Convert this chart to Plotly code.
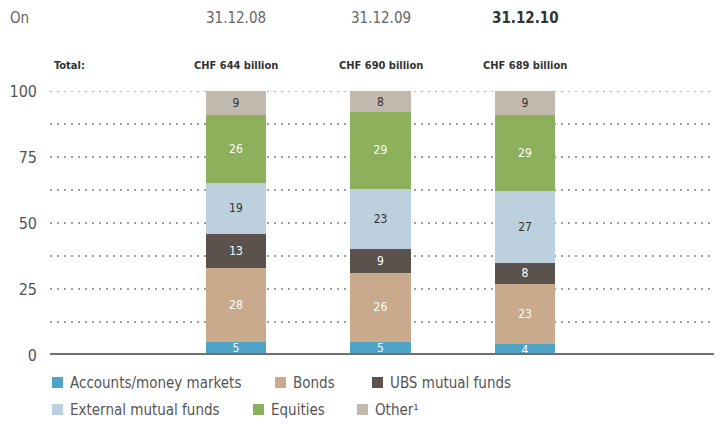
import plotly.graph_objects as go

dates = ["31.12.08", "31.12.09", "31.12.10"]
totals = ["CHF 644 billion", "CHF 690 billion", "CHF 689 billion"]
series_names = ["Accounts/money markets", "Bonds", "UBS mutual funds",
                "External mutual funds", "Equities", "Other¹"]
accounts = [5, 5, 4]
bonds = [28, 26, 23]
ubs_funds = [13, 9, 8]
external_funds = [19, 23, 27]
equities = [26, 29, 29]
other = [9, 8, 9]
grid_vals = [0, 12.5, 25, 37.5, 50, 62.5, 75, 87.5, 100]
grid_text = ["0", "", "25", "", "50", "", "75", "", "100"]

values = [accounts, bonds, ubs_funds, external_funds, equities, other]
colors = ["#4ea3c7", "#c9aa8c", "#5b524d", "#bdd0de", "#8cb05b", "#c3baaf"]
text_colors = ["white", "white", "white", "#333333", "white", "#333333"]

FONT = "Liberation Sans Narrow, DejaVu Sans Condensed, sans-serif"
x = [0, 1, 2]

# page body has an 8px margin: figure is shifted by (8, 8)
OFF = 8
W, H = 722 - OFF, 426 - OFF
L, T, PW, PH = 50 - OFF, 91 - OFF, 672, 264

GRID_COLOR = "#a0a0a0"
GRID_DASH = "2px,5px"

fig = go.Figure()
for name, vals, col, tcol in zip(series_names, values, colors, text_colors):
    fig.add_trace(go.Bar(
        x=x, y=vals, name=name, width=0.42,
        marker=dict(color=col, line=dict(width=0)),
        text=[str(v) for v in vals], textposition="inside",
        insidetextanchor="middle", textangle=0, constraintext="none",
        textfont=dict(family=FONT, size=12, color=tcol),
        showlegend=False,
    ))

fig.update_layout(
    barmode="stack",
    width=W, height=H,
    margin=dict(l=L, r=0, t=T, b=H - T - PH, autoexpand=False),
    paper_bgcolor="white", plot_bgcolor="white",
    font=dict(family=FONT, color="#555555"),
    xaxis=dict(range=[-1.287, 3.363], showticklabels=False, showgrid=False,
               zeroline=False, showline=False),
    yaxis=dict(range=[0, 100], tickvals=grid_vals, ticktext=grid_text,
               showgrid=True, gridcolor=GRID_COLOR, griddash=GRID_DASH,
               gridwidth=1.5, zeroline=False, showline=False, ticks="",
               ticklabelstandoff=12,
               tickfont=dict(family=FONT, size=16, color="#555555")),
)

# top gridline (at the range edge) and baseline
fig.add_shape(type="line", xref="paper", yref="y", x0=0, x1=1,
              y0=grid_vals[-1], y1=grid_vals[-1],
              line=dict(color=GRID_COLOR, width=1.5, dash=GRID_DASH), layer="below")
fig.add_shape(type="line", xref="paper", yref="y", x0=0, x1=1, y0=0, y1=0,
              line=dict(color="#6e6e6e", width=4), layer="above")


def px_x(px):
    return (px - 50) / PW


def px_y(py):
    return 1 - (py - 91) / PH


anns = []
anns.append(dict(xref="paper", yref="paper", x=px_x(8), y=px_y(18),
                 text="On", xanchor="left", yanchor="middle", showarrow=False,
                 font=dict(size=15, color="#666666")))
anns.append(dict(xref="paper", yref="paper", x=px_x(52), y=px_y(66),
                 text="<b>Total:</b>", xanchor="left", yanchor="middle", showarrow=False,
                 font=dict(size=11, color="#333333")))
for i, (d, t) in enumerate(zip(dates, totals)):
    dtext = f"<b>{d}</b>" if i == len(dates) - 1 else d
    anns.append(dict(xref="x", yref="paper", x=x[i], y=px_y(18),
                     text=dtext, xanchor="center", yanchor="middle", showarrow=False,
                     font=dict(size=15, color="#333333" if i == 2 else "#666666")))
    anns.append(dict(xref="x", yref="paper", x=x[i], y=px_y(66),
                     text=f"<b>{t}</b>", xanchor="center", yanchor="middle", showarrow=False,
                     font=dict(size=11, color="#333333")))

# legend (manual)
legend_pos = [(52, 383), (275, 383), (372, 383), (52, 410), (253, 410), (357, 410)]
for (lx, ly), name, col in zip(legend_pos, series_names, colors):
    fig.add_shape(type="rect", xref="paper", yref="paper",
                  x0=px_x(lx), x1=px_x(lx + 11), y0=px_y(ly + 5), y1=px_y(ly - 6),
                  fillcolor=col, line=dict(width=0))
    anns.append(dict(xref="paper", yref="paper", x=px_x(lx + 16),
                     y=px_y(ly), text=name, xanchor="left", yanchor="middle",
                     showarrow=False, font=dict(size=15, color="#555555")))

for a in anns:
    fig.add_annotation(**a)

fig.write_html("out.html")
